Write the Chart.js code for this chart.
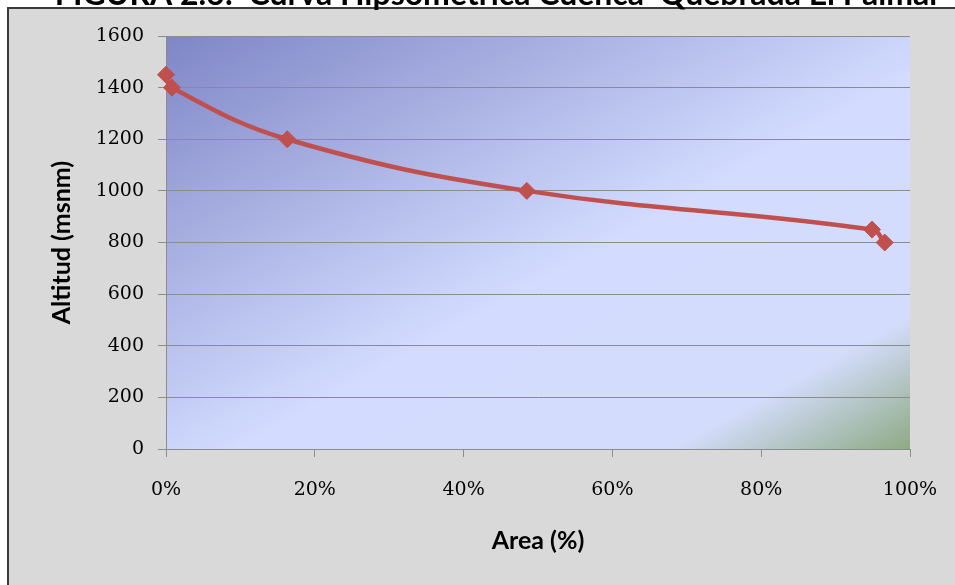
<!DOCTYPE html>
<html>
<head>
<meta charset="utf-8">
<style>
  html, body { margin: 0; padding: 0; background: #ffffff; }
  #wrap { width: 955px; height: 585px; }
</style>
<script src="https://cdn.jsdelivr.net/npm/chart.js@4/dist/chart.umd.min.js"></script>
</head>
<body>
<div id="wrap"><canvas id="c" width="955" height="585"></canvas></div>
<script>
// Curva hipsométrica: porcentaje de área acumulada vs. altitud
const areaPct = [0, 0.8, 16.3, 48.5, 94.9, 96.6];
const altitud = [1450, 1400, 1200, 1000, 850, 800];
const tituloFigura = 'FIGURA 2.6:  Curva Hipsometrica Cuenca  Quebrada El Palmar';
const tituloY = 'Altitud (msnm)';
const tituloX = 'Area (%)';

const puntos = areaPct.map((a, i) => ({ x: a, y: altitud[i] }));

// Marco gris del gráfico y relleno degradado del área de trazado
const fondo = {
  id: 'fondo',
  beforeDraw(chart) {
    const ctx = chart.ctx;
    const a = chart.chartArea;
    ctx.save();
    ctx.fillStyle = '#ffffff';
    ctx.fillRect(0, 0, chart.width, chart.height);
    ctx.fillStyle = '#d9d9d9';
    ctx.fillRect(8, 8, chart.width, chart.height);
    ctx.strokeStyle = '#3a3a3a';
    ctx.lineWidth = 2;
    ctx.strokeRect(8, 8, chart.width + 10, chart.height + 10);

    // degradado diagonal en coordenadas normalizadas del área
    ctx.translate(a.left, a.top);
    ctx.scale(a.right - a.left, a.bottom - a.top);
    const g = ctx.createLinearGradient(0, 0, 1, 1);
    g.addColorStop(0, '#7f86c6');
    g.addColorStop(0.55, '#d3dcff');
    g.addColorStop(0.84, '#d3dcfb');
    g.addColorStop(1, '#8eaa84');
    ctx.fillStyle = g;
    ctx.fillRect(0, 0, 1, 1);
    ctx.restore();
  },
  afterDraw(chart) {
    const ctx = chart.ctx;
    ctx.save();
    ctx.fillStyle = '#000000';
    ctx.font = 'bold 32px Lato';
    ctx.textAlign = 'center';
    ctx.textBaseline = 'alphabetic';
    ctx.fillText(tituloFigura, 498, 5);
    ctx.restore();
  }
};

new Chart(document.getElementById('c'), {
  type: 'scatter',
  data: {
    datasets: [{
      data: puntos,
      showLine: true,
      tension: 0.4,
      borderColor: '#c0504d',
      backgroundColor: '#c0504d',
      borderWidth: 4.5,
      pointStyle: 'rectRot',
      pointRadius: 8.5,
      pointHoverRadius: 8.5,
      pointBorderWidth: 1,
      clip: false
    }]
  },
  options: {
    responsive: false,
    animation: false,
    events: [],
    layout: { padding: { left: 0, right: 45, top: 36, bottom: 0 } },
    plugins: {
      legend: { display: false },
      tooltip: { enabled: false },
      title: { display: false }
    },
    scales: {
      x: {
        type: 'linear',
        min: 0,
        max: 100,
        afterFit(s) {
          s.height = 136;
          s.paddingLeft = 0;
          s.paddingRight = 0;
        },
        ticks: {
          stepSize: 20,
          padding: 22,
          color: '#000000',
          font: { family: 'DejaVu Serif', size: 19 },
          callback: v => v + '%'
        },
        grid: {
          drawOnChartArea: false,
          drawTicks: true,
          tickLength: 8,
          color: '#8c8c8c'
        },
        border: { color: '#8c8c8c', width: 1 },
        title: {
          display: true,
          text: tituloX,
          color: '#000000',
          font: { family: 'Lato', size: 25, weight: 'bold' },
          padding: { top: 0, bottom: 29 }
        }
      },
      y: {
        min: 0,
        max: 1600,
        afterFit(s) {
          s.width = 166;
          s.paddingTop = 0;
          s.paddingBottom = 0;
        },
        ticks: {
          stepSize: 200,
          padding: 14,
          color: '#000000',
          font: { family: 'DejaVu Serif', size: 19 },
          callback: v => String(v)
        },
        grid: {
          color: '#8c8c8c',
          lineWidth: 1,
          drawTicks: true,
          tickLength: 8
        },
        border: { color: '#8c8c8c', width: 1 },
        title: {
          display: true,
          text: tituloY,
          color: '#000000',
          font: { family: 'Lato', size: 25, weight: 'bold' },
          padding: { top: 47, bottom: 0 }
        }
      }
    }
  },
  plugins: [fondo]
});
</script>
</body>
</html>
